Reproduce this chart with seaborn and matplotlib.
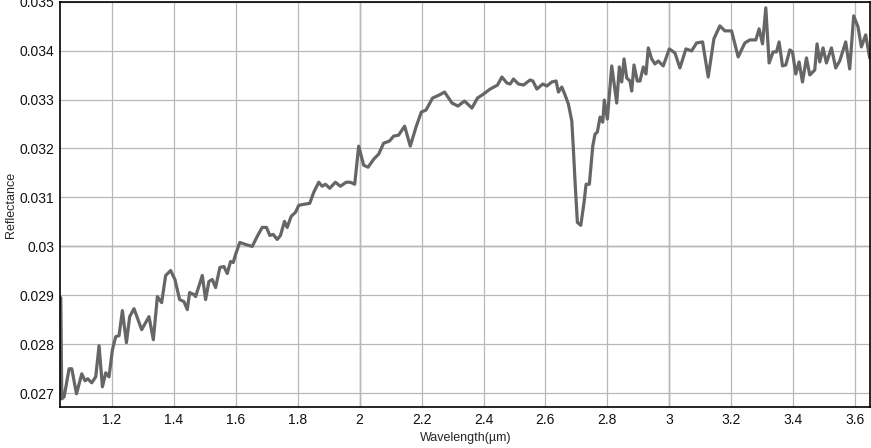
import numpy as np
import pandas as pd
import matplotlib
matplotlib.use("Agg")
import matplotlib.pyplot as plt
from matplotlib.ticker import MultipleLocator, FuncFormatter
import seaborn as sns

# spectrum
wavelength = [
    1.0345, 1.0377, 1.0452, 1.0613, 1.0700, 1.0852, 1.1023, 1.1129, 1.1216, 1.1345,
    1.1474, 1.1581, 1.1690, 1.1797, 1.1903, 1.2013, 1.2119, 1.2226, 1.2335, 1.2465,
    1.2571, 1.2710, 1.2958, 1.3194, 1.3335, 1.3465, 1.3603, 1.3732, 1.3894, 1.4032,
    1.4184, 1.4323, 1.4432, 1.4506, 1.4645, 1.4700, 1.4916, 1.5023, 1.5129, 1.5239,
    1.5345, 1.5484, 1.5613, 1.5723, 1.5829, 1.5916, 1.5990, 1.6129, 1.6313, 1.6529,
    1.6690, 1.6852, 1.6990, 1.7097, 1.7206, 1.7335, 1.7442, 1.7571, 1.7658, 1.7787,
    1.7926, 1.8032, 1.8194, 1.8387, 1.8516, 1.8677, 1.8787, 1.8894, 1.9032, 1.9216,
    1.9377, 1.9561, 1.9700, 1.9839, 1.9968, 2.0129, 2.0271, 2.0452, 2.0613, 2.0774,
    2.0958, 2.1097, 2.1258, 2.1452, 2.1635, 2.1819, 2.1990, 2.2142, 2.2355, 2.2571,
    2.2742, 2.2981, 2.3174, 2.3387, 2.3626, 2.3806, 2.4000, 2.4216, 2.4452, 2.4594,
    2.4755, 2.4861, 2.4968, 2.5129, 2.5290, 2.5506, 2.5594, 2.5723, 2.5916, 2.6045,
    2.6206, 2.6345, 2.6419, 2.6529, 2.6635, 2.6742, 2.6852, 2.6903, 2.6958, 2.7032,
    2.7142, 2.7248, 2.7313, 2.7419, 2.7529, 2.7603, 2.7677, 2.7765, 2.7852, 2.7903,
    2.8000, 2.8142, 2.8303, 2.8387, 2.8465, 2.8539, 2.8626, 2.8732, 2.8787, 2.8861,
    2.8968, 2.9055, 2.9161, 2.9248, 2.9323, 2.9432, 2.9539, 2.9645, 2.9806, 3.0000,
    3.0184, 3.0345, 3.0539, 3.0723, 3.0884, 3.1077, 3.1258, 3.1442, 3.1635, 3.1797,
    3.2013, 3.2226, 3.2442, 3.2603, 3.2797, 3.2903, 3.3013, 3.3119, 3.3226, 3.3355,
    3.3465, 3.3548, 3.3658, 3.3765, 3.3894, 3.3981, 3.4087, 3.4194, 3.4303, 3.4432,
    3.4539, 3.4700, 3.4774, 3.4861, 3.4968, 3.5077, 3.5239, 3.5377, 3.5506, 3.5700,
    3.5829, 3.5958, 3.6097, 3.6206, 3.6345, 3.6474,
]
reflectance = [
    0.028950, 0.026883, 0.026924, 0.027498, 0.027498, 0.026986, 0.027395, 0.027252, 0.027293, 0.027211,
    0.027334, 0.027969, 0.027129, 0.027416, 0.027334, 0.027887, 0.028154, 0.028174, 0.028686, 0.028031,
    0.028563, 0.028727, 0.028297, 0.028563, 0.028092, 0.028973, 0.028850, 0.029404, 0.029506, 0.029322,
    0.028912, 0.028871, 0.028707, 0.029055, 0.029015, 0.028973, 0.029404, 0.028912, 0.029281, 0.029322,
    0.029158, 0.029568, 0.029588, 0.029445, 0.029691, 0.029670, 0.029834, 0.030080, 0.030039, 0.029998,
    0.030203, 0.030387, 0.030387, 0.030223, 0.030244, 0.030141, 0.030223, 0.030510, 0.030387, 0.030613,
    0.030695, 0.030838, 0.030859, 0.030879, 0.031105, 0.031310, 0.031228, 0.031269, 0.031187, 0.031310,
    0.031228, 0.031310, 0.031310, 0.031269, 0.032048, 0.031658, 0.031617, 0.031781, 0.031884, 0.032109,
    0.032150, 0.032253, 0.032273, 0.032457, 0.032048, 0.032437, 0.032744, 0.032785, 0.033031, 0.033093,
    0.033154, 0.032929, 0.032867, 0.032970, 0.032826, 0.033031, 0.033113, 0.033215, 0.033297, 0.033461,
    0.033338, 0.033318, 0.033420, 0.033318, 0.033297, 0.033400, 0.033379, 0.033215, 0.033318, 0.033277,
    0.033359, 0.033379, 0.033154, 0.033256, 0.033092, 0.032908, 0.032560, 0.031986, 0.031310, 0.030490,
    0.030429, 0.030900, 0.031269, 0.031269, 0.032048, 0.032294, 0.032335, 0.032642, 0.032539, 0.032990,
    0.032601, 0.033687, 0.032929, 0.033666, 0.033359, 0.033830, 0.033441, 0.033379, 0.033174, 0.033707,
    0.033379, 0.033379, 0.033666, 0.033523, 0.034056, 0.033830, 0.033728, 0.033789, 0.033687, 0.034035,
    0.033953, 0.033646, 0.034035, 0.033994, 0.034158, 0.034178, 0.033461, 0.034240, 0.034506, 0.034404,
    0.034404, 0.033871, 0.034158, 0.034219, 0.034219, 0.034445, 0.034138, 0.034875, 0.033748, 0.033974,
    0.033974, 0.034178, 0.033687, 0.033707, 0.034015, 0.033974, 0.033523, 0.033769, 0.033359, 0.033851,
    0.033502, 0.033605, 0.034138, 0.033769, 0.034056, 0.033748, 0.034056, 0.033646, 0.033789, 0.034178,
    0.033625, 0.034711, 0.034486, 0.034076, 0.034322, 0.033851,
]

df = pd.DataFrame({"wavelength": wavelength, "reflectance": reflectance})

sns.set_style("white")
plt.rcParams["font.family"] = ["Liberation Sans", "DejaVu Sans"]

fig = plt.figure(figsize=(8.71, 4.48), dpi=100)
ax = fig.add_axes([0.0689, 0.0908, 0.9305, 0.9054])

sns.lineplot(data=df, x="wavelength", y="reflectance", ax=ax,
             color="#666666", linewidth=2.3, sort=False)

ax.set_xlim(1.032, 3.65)
ax.set_ylim(0.02671, 0.035)
ax.xaxis.set_major_locator(MultipleLocator(0.2))
ax.yaxis.set_major_locator(MultipleLocator(0.001))
fmt = FuncFormatter(lambda v, p: "{:g}".format(round(v, 6)))
ax.xaxis.set_major_formatter(fmt)
ax.yaxis.set_major_formatter(fmt)

# grid: light lines, darker at the whole numbers
ax.grid(True, color="#b8b8b8", linewidth=0.9)
ax.set_axisbelow(True)
for xv in [2, 3]:
    ax.axvline(xv, color="#606060", linewidth=0.9, zorder=0.5)
ax.axhline(0.03, color="#606060", linewidth=0.9, zorder=0.5)

for s in ax.spines.values():
    s.set_color("black")
    s.set_linewidth(1.2)

ax.tick_params(axis="both", length=0, labelsize=10, colors="#111111", pad=4)
ax.set_xlabel("Wavelength(µm)", fontsize=9, va="center")
ax.set_ylabel("Reflectance", fontsize=9, va="center")
ax.xaxis.set_label_coords(0.5, -0.076)
ax.yaxis.set_label_coords(-0.061, 0.5)

fig.savefig("out.png", dpi=100)
